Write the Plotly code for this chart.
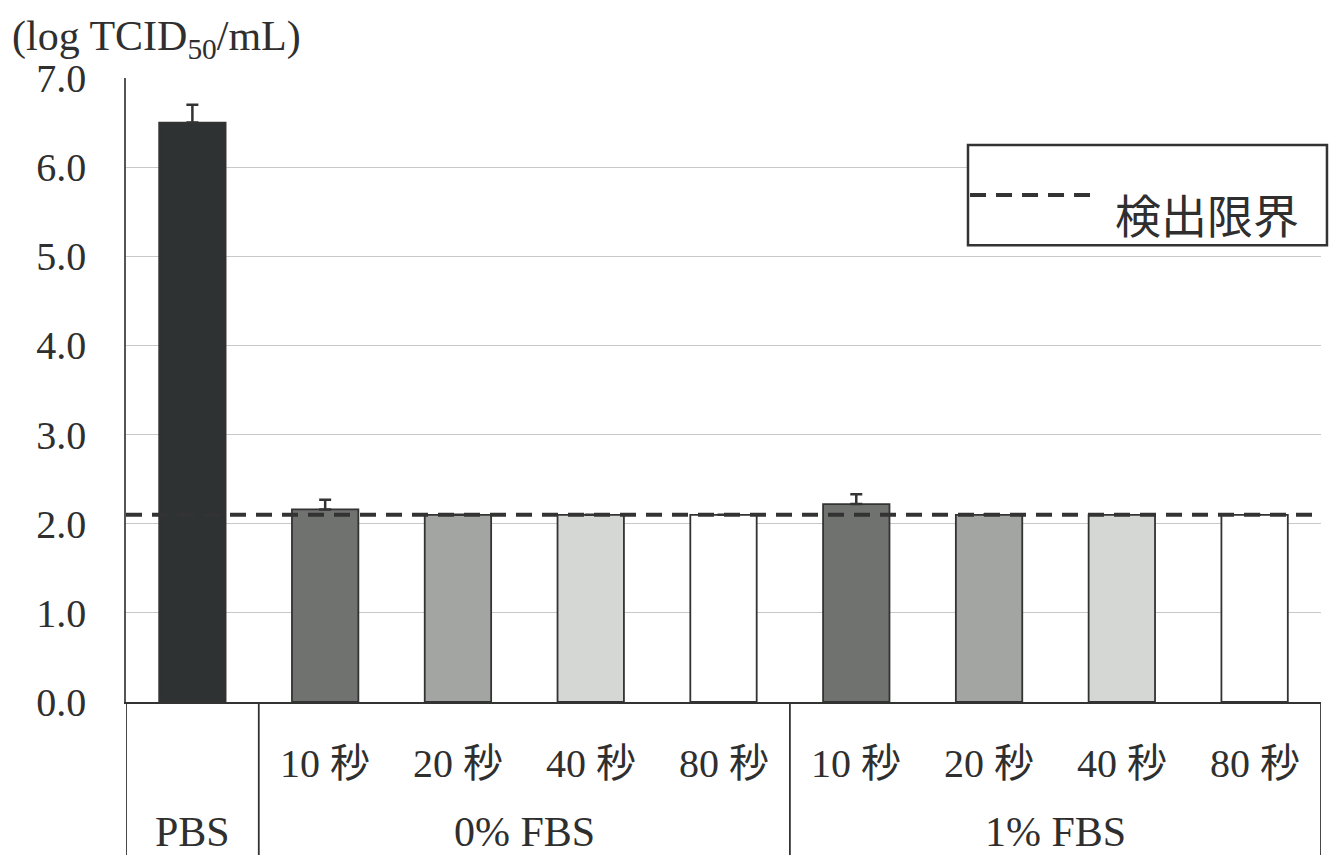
import plotly.graph_objects as go

# ---- data ----
groups = ["PBS", "0% FBS", "0% FBS", "0% FBS", "0% FBS", "1% FBS", "1% FBS", "1% FBS", "1% FBS"]
sub_labels = ["", "10 秒", "20 秒", "40 秒", "80 秒", "10 秒", "20 秒", "40 秒", "80 秒"]
values = [6.50, 2.16, 2.10, 2.10, 2.10, 2.22, 2.10, 2.10, 2.10]
errors = [0.20, 0.11, 0.0, 0.0, 0.0, 0.11, 0.0, 0.0, 0.0]
detection_limit = 2.1
y_ticks = [0, 1, 2, 3, 4, 5, 6, 7]
legend_label = "検出限界"
y_title = "(log TCID<sub>50</sub>/mL)"

# ---- style ----
bar_colors = ["#2e3232", "#707270", "#a3a5a3", "#d5d7d5", "#ffffff",
              "#707270", "#a3a5a3", "#d5d7d5", "#ffffff"]
SERIF = "Liberation Serif, Times New Roman, Noto Sans CJK JP, serif"
TXT = "#2f2f2f"

xs = list(range(len(values)))

fig = go.Figure()
fig.add_trace(go.Bar(
    x=xs, y=values, width=0.5,
    marker=dict(color=bar_colors, line=dict(color="#333333", width=1.8)),
    error_y=dict(type="data", symmetric=False, array=errors,
                 arrayminus=[0] * len(errors), color="#333333",
                 thickness=2.5, width=6),
    showlegend=False, hoverinfo="skip",
))

shapes = []
# detection limit dashed line
shapes.append(dict(type="line", xref="paper", yref="y", x0=0, x1=1,
                   y0=detection_limit, y1=detection_limit,
                   line=dict(color="#333333", width=4, dash="16px,10px"),
                   layer="above"))

# category table separators below the axis
boundaries = [-0.5]
for i in range(1, len(groups)):
    if groups[i] != groups[i - 1]:
        boundaries.append(i - 0.5)
boundaries.append(len(groups) - 0.5)
for b in boundaries:
    shapes.append(dict(type="line", xref="x", yref="paper", x0=b, x1=b,
                       y0=0, y1=-0.27, line=dict(color="#333333", width=1.8)))

# custom legend box
shapes.append(dict(type="rect", xref="paper", yref="paper",
                   x0=0.7046, x1=1.005, y0=0.732, y1=0.8926,
                   line=dict(color="#333333", width=2.5), fillcolor="white",
                   layer="above"))
shapes.append(dict(type="line", xref="paper", yref="paper",
                   x0=0.7063, x1=0.8067, y0=0.8125, y1=0.8125,
                   line=dict(color="#333333", width=4, dash="16px,10px"),
                   layer="above"))

annotations = []
for x, lab in zip(xs, sub_labels):
    if lab:
        annotations.append(dict(x=x, y=-0.098, xref="x", yref="paper", text=lab,
                                showarrow=False, xanchor="center", yanchor="middle",
                                font=dict(family=SERIF, size=40, color=TXT)))
# group labels
start = 0
for i in range(1, len(groups) + 1):
    if i == len(groups) or groups[i] != groups[start]:
        annotations.append(dict(x=(start + i - 1) / 2, y=-0.208, xref="x", yref="paper",
                                text=groups[start], showarrow=False,
                                xanchor="center", yanchor="middle",
                                font=dict(family=SERIF, size=42, color=TXT)))
        start = i

annotations.append(dict(x=0.9046, y=0.7837, xref="paper", yref="paper",
                        text=legend_label, showarrow=False,
                        xanchor="center", yanchor="middle",
                        font=dict(family="Noto Sans CJK JP, sans-serif", size=46, color=TXT)))
annotations.append(dict(x=-0.097, y=1.063, xref="paper", yref="paper", text=y_title,
                        showarrow=False, xanchor="left", yanchor="middle",
                        font=dict(family=SERIF, size=42, color=TXT)))

fig.update_layout(
    width=1335, height=855,
    margin=dict(l=126, r=14, t=78, b=153),
    paper_bgcolor="white", plot_bgcolor="white",
    shapes=shapes, annotations=annotations,
    bargap=0.5,
    xaxis=dict(range=[-0.5, len(values) - 0.5], showticklabels=False, ticks="",
               showgrid=False, zeroline=False, showline=True, automargin=False,
               linecolor="#333333", linewidth=2),
    yaxis=dict(range=[0, 7], tickvals=y_ticks,
               ticktext=[f"{v:.1f}" for v in y_ticks],
               showgrid=True, gridcolor="#c8c8c8", gridwidth=1, automargin=False,
               zeroline=False, showline=True, linecolor="#555555", linewidth=1.5,
               ticks="", ticklen=0,
               tickfont=dict(family=SERIF, size=40, color=TXT)),
)
fig.update_yaxes(ticklabelstandoff=30)

fig.write_html("out.html", config={"displayModeBar": False},
               post_script="document.body.style.margin='0';")
